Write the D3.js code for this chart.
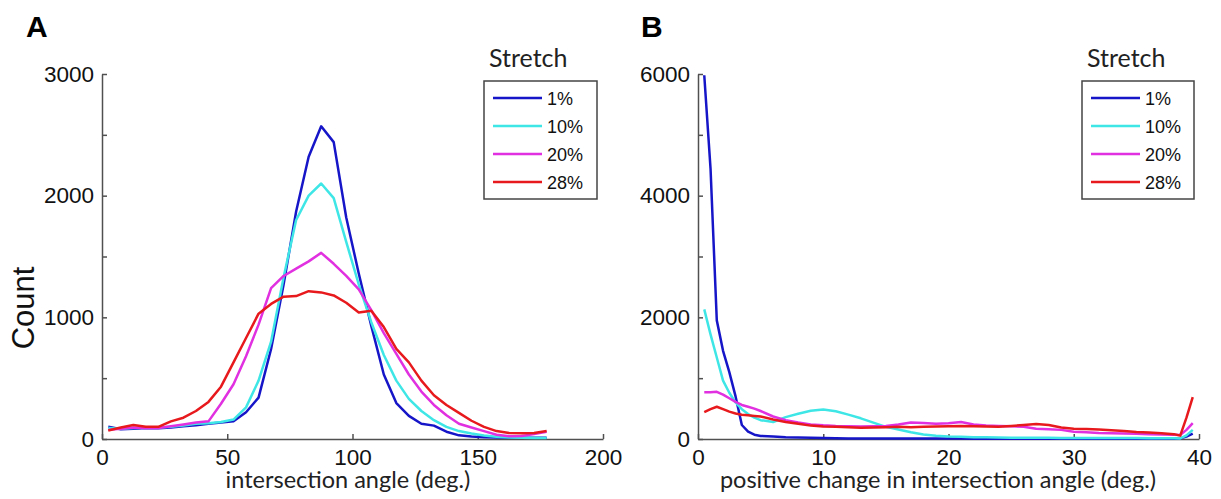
<!DOCTYPE html>
<html>
<head>
<meta charset="utf-8">
<script src="https://cdn.jsdelivr.net/npm/d3@7"></script>
<style>
  body { margin: 0; background: #fff; }
  .tick text { font-family: "Liberation Sans", Arial, sans-serif; font-size: 22.5px; fill: #111; }
  .axis path, .axis line { stroke: #505050; stroke-width: 1.5; }
  .xlabel, .stretch { font-family: Lato, "Open Sans", sans-serif; fill: #222; }
  .legtext { font-family: "Liberation Sans", Arial, sans-serif; font-size: 18px; fill: #111; }
  .panel { font-family: "Liberation Sans", Arial, sans-serif; font-weight: bold; font-size: 30px; fill: #000; }
</style>
</head>
<body>
<script>
//series labels and colours
var stretchLabels = ["1%", "10%", "20%", "28%"];
var colors = ["#1616c8", "#3fe6e6", "#e030e0", "#e8191c"];

//panel A: intersection angle (deg.) vs count
var angleA = [2.5, 7.5, 12.5, 17.5, 22.5, 27.5, 32.5, 37.5, 42.5, 47.5, 52.5, 57.5,
              62.5, 67.5, 72.5, 77.5, 82.5, 87.5, 92.5, 97.5, 102.5, 107.5, 112.5, 117.5,
              122.5, 127.5, 132.5, 137.5, 142.5, 147.5, 152.5, 157.5, 162.5, 167.5, 172.5, 177.5];
var a1  = [100, 80, 85, 90, 88, 95, 105, 112, 125, 135, 145, 220,
           340, 740, 1270, 1870, 2320, 2570, 2440, 1820, 1360, 930, 530, 295,
           190, 125, 110, 60, 30, 20, 15, 12, 10, 10, 10, 10];
var a10 = [90, 85, 90, 95, 95, 100, 110, 125, 130, 140, 160, 260,
           480, 800, 1330, 1800, 2000, 2100, 1980, 1620, 1270, 960, 690, 480,
           330, 230, 155, 100, 65, 45, 28, 18, 12, 10, 8, 8];
var a20 = [75, 85, 95, 90, 90, 105, 120, 135, 145, 290, 450, 680,
           940, 1240, 1340, 1400, 1460, 1530, 1440, 1340, 1230, 1060, 870, 700,
           530, 390, 280, 195, 125, 95, 65, 35, 22, 25, 40, 60];
var a28 = [70, 95, 115, 100, 100, 145, 175, 230, 305, 430, 630, 830,
           1030, 1110, 1170, 1175, 1215, 1205, 1180, 1120, 1040, 1055, 920, 740,
           630, 480, 360, 280, 215, 150, 100, 65, 50, 47, 50, 65];

//panel B: positive change in intersection angle (deg.) vs count
var changeB = [0.5, 1, 1.5, 2, 2.5, 3, 3.5, 4, 4.5, 5, 6, 7, 8, 9, 10, 11, 12, 13, 14, 15,
               16, 17, 18, 19, 20, 21, 22, 23, 24, 25, 26, 27, 28, 29, 30, 31, 32, 33, 34,
               35, 36, 37, 38, 38.5, 39, 39.5];
var b1  = [5980, 4450, 1950, 1450, 1100, 700, 230, 120, 70, 50, 40, 30, 25, 20, 15, 12, 10, 10, 9, 9,
           8, 8, 8, 7, 7, 7, 6, 6, 6, 6, 5, 5, 5, 5, 5, 5, 5, 5, 5,
           5, 5, 5, 5, 10, 40, 90];
var b10 = [2130, 1720, 1340, 960, 760, 600, 490, 410, 350, 310, 280, 360, 415, 465, 485, 455, 400, 340, 270, 200,
           155, 110, 75, 55, 40, 35, 30, 28, 25, 22, 20, 20, 19, 18, 18, 17, 16, 16, 15,
           15, 14, 13, 12, 10, 60, 150];
var b20 = [770, 770, 775, 730, 670, 610, 560, 530, 500, 460, 370, 310, 270, 240, 225, 215, 210, 205, 210, 215,
           240, 270, 265, 250, 260, 280, 240, 220, 215, 210, 200, 170, 160, 150, 120, 110, 100, 95, 90,
           85, 80, 75, 70, 65, 150, 260];
var b28 = [440, 490, 530, 490, 450, 420, 400, 390, 380, 370, 320, 280, 250, 220, 205, 200, 195, 185, 190, 195,
           200, 195, 200, 205, 210, 215, 210, 205, 200, 215, 230, 245, 230, 190, 170, 165, 155, 145, 130,
           115, 105, 95, 80, 55, 350, 690];

//axis ticks
var xTicksA = [0, 50, 100, 150, 200];
var yTicksA = [0, 500, 1000, 1500, 2000, 2500, 3000];
var yLabelsA = [0, 1000, 2000, 3000];
var xTicksB = [0, 10, 20, 30, 40];
var yTicksB = [0, 1000, 2000, 3000, 4000, 5000, 6000];
var yLabelsB = [0, 2000, 4000, 6000];

var W = 1221, H = 499;
var svg = d3.select("body").append("svg").attr("width", W).attr("height", H);

var plotW = 501, plotH = 365, plotTop = 74;

function drawPanel(opt) {
    var xScale = d3.scaleLinear().domain(opt.xDomain).range([0, plotW]);
    var yScale = d3.scaleLinear().domain(opt.yDomain).range([plotH, 0]);

    var g = svg.append("g").attr("transform", "translate(" + opt.left + "," + plotTop + ")");

    var xAxis = d3.axisBottom(xScale)
                  .tickValues(opt.xTicks)
                  .tickSizeInner(-5)
                  .tickSizeOuter(0)
                  .tickPadding(10)
                  .tickFormat(d3.format("d"));
    var yAxis = d3.axisLeft(yScale)
                  .tickValues(opt.yTicks)
                  .tickSizeInner(-5)
                  .tickSizeOuter(0)
                  .tickPadding(8)
                  .tickFormat(function(d){ return opt.yLabels.indexOf(d) >= 0 ? d : ""; });

    g.append("g").attr("class", "axis").attr("transform", "translate(0," + plotH + ")").call(xAxis);
    g.append("g").attr("class", "axis").call(yAxis);

    var line = d3.line()
                 .x(function(d){ return xScale(d[0]); })
                 .y(function(d){ return yScale(d[1]); });

    opt.series.forEach(function(s, i) {
        g.append("path")
         .attr("d", line(d3.zip(opt.xs, s)))
         .attr("fill", "none")
         .attr("stroke", colors[i])
         .attr("stroke-width", 2.5)
         .attr("stroke-linejoin", "round");
    });

    //x axis label
    svg.append("text")
       .attr("class", "xlabel")
       .attr("x", opt.left + opt.xLabelX)
       .attr("y", 488)
       .attr("text-anchor", "middle")
       .style("font-size", "23.5px")
       .text(opt.xLabel);

    //panel letter
    svg.append("text")
       .attr("class", "panel")
       .attr("x", opt.letterX)
       .attr("y", 37)
       .text(opt.letter);

    //legend
    var lg = svg.append("g").attr("transform", "translate(" + opt.legX + ",81)");
    lg.append("text")
      .attr("class", "stretch")
      .attr("x", 5)
      .attr("y", -14)
      .style("font-size", "25px")
      .text("Stretch");
    lg.append("rect")
      .attr("width", opt.legW)
      .attr("height", 118)
      .attr("fill", "#fff")
      .attr("stroke", "#444")
      .attr("stroke-width", 1.5);
    stretchLabels.forEach(function(lab, i) {
        var y = 17 + i * 28;
        lg.append("line")
          .attr("x1", 9).attr("x2", 58)
          .attr("y1", y).attr("y2", y)
          .attr("stroke", colors[i])
          .attr("stroke-width", 2.5);
        lg.append("text")
          .attr("class", "legtext")
          .attr("x", 63)
          .attr("y", y + 7)
          .text(lab);
    });
}

drawPanel({
    left: 102, xDomain: [0, 200], yDomain: [0, 3000],
    xTicks: xTicksA, yTicks: yTicksA, yLabels: yLabelsA,
    xs: angleA, series: [a1, a10, a20, a28],
    xLabel: "intersection angle (deg.)", xLabelX: 246,
    letter: "A", letterX: 26,
    legX: 484, legW: 113
});

drawPanel({
    left: 698, xDomain: [0, 40], yDomain: [0, 6000],
    xTicks: xTicksB, yTicks: yTicksB, yLabels: yLabelsB,
    xs: changeB, series: [b1, b10, b20, b28],
    xLabel: "positive change in intersection angle (deg.)", xLabelX: 240,
    letter: "B", letterX: 641,
    legX: 1082, legW: 112
});

//y axis title (panel A only)
svg.append("text")
   .attr("transform", "translate(34,308) rotate(-90)")
   .attr("text-anchor", "middle")
   .style("font-family", "'Liberation Sans', Arial, sans-serif")
   .style("font-size", "31px")
   .style("fill", "#111")
   .text("Count");
</script>
</body>
</html>
